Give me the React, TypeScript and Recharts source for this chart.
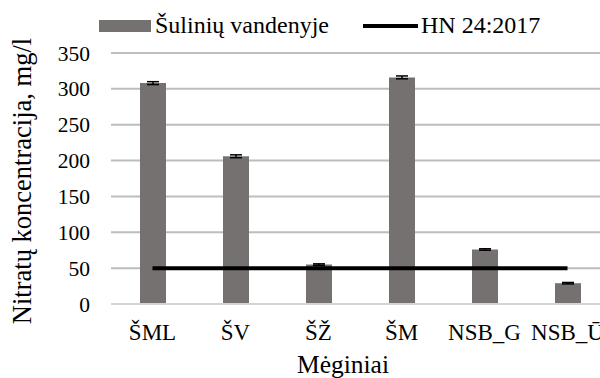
import React from "react";
import { ComposedChart, Bar, Line, XAxis, YAxis, CartesianGrid, ErrorBar, Legend, Label } from "recharts";

const samples = ["ŠML", "ŠV", "ŠŽ", "ŠM", "NSB_G", "NSB_Ū"];
const wellValues = [308, 206, 55, 316, 76, 29];
const wellErrors = [2, 2, 1, 2, 1, 1];
const limitValues = [50, 50, 50, 50, 50, 50];
const yTicks = [0, 50, 100, 150, 200, 250, 300, 350];

const data = samples.map((name, i) => ({
    name,
    well: wellValues[i],
    err: wellErrors[i],
    limit: limitValues[i],
}));

const FONT = "'Liberation Serif', 'DejaVu Serif', serif";

// legend drawn from the payload, placed like the Excel one
const renderLegend = (props: any) => {
    const payload = props.payload || [];
    const barItem = payload.find((p: any) => p.type !== "line");
    const lineItem = payload.find((p: any) => p.type === "line");
    return (
        <svg width={600} height={40} style={{ display: "block", fontFamily: FONT }}>
            {barItem && (
                <g>
                    <rect x={99} y={20} width={52} height={12} fill={barItem.color} />
                    <text x={155} y={33} style={{ fontFamily: FONT }} fontSize={24} fill="#000">
                        {barItem.value}
                    </text>
                </g>
            )}
            {lineItem && (
                <g>
                    <line x1={363} x2={418} y1={26} y2={26} stroke={lineItem.color} strokeWidth={4} />
                    <text x={421} y={33} style={{ fontFamily: FONT }} fontSize={24} fill="#000">
                        {lineItem.value}
                    </text>
                </g>
            )}
        </svg>
    );
};

export default function App() {
    return (
        <div
            style={{
                position: "absolute",
                left: 0,
                top: 0,
                width: 600,
                height: 378,
                overflow: "hidden",
                background: "#fff",
                fontFamily: FONT,
            }}
        >
            <ComposedChart
                width={620}
                height={378}
                data={data}
                margin={{ top: 53, right: 11, bottom: 0, left: 0 }}
                style={{ fontFamily: FONT }}
            >
                <CartesianGrid vertical={false} stroke="#bdbdbd" strokeWidth={2} />
                <XAxis
                    dataKey="name"
                    height={74}
                    axisLine={{ stroke: "#d4d4d4", strokeWidth: 2 }}
                    tickLine={false}
                    tickSize={0}
                    tickMargin={20}
                    interval={0}
                    tick={{ fill: "#000", fontSize: 23, style: { fontFamily: FONT } }}
                >
                    <Label
                        content={() => (
                            <text x={343} y={373} textAnchor="middle" style={{ fontFamily: FONT }} fontSize={25.5} fill="#000">
                                Mėginiai
                            </text>
                        )}
                    />
                </XAxis>
                <YAxis
                    width={111}
                    domain={[0, 350]}
                    ticks={yTicks}
                    axisLine={false}
                    tickLine={false}
                    tickSize={0}
                    tickMargin={21}
                    tick={{ fill: "#000", fontSize: 21.5, style: { fontFamily: FONT } }}
                >
                    <Label
                        content={() => (
                            <text
                                transform="rotate(-90)"
                                x={-181}
                                y={31}
                                textAnchor="middle"
                                style={{ fontFamily: FONT }}
                                fontSize={26.5}
                                fill="#000"
                            >
                                Nitratų koncentracija, mg/l
                            </text>
                        )}
                    />
                </YAxis>
                <Legend
                    verticalAlign="middle"
                    content={renderLegend}
                    wrapperStyle={{ position: "absolute", top: 0, left: 0, width: 600, height: 40 }}
                />
                <Bar dataKey="well" name="Šulinių vandenyje" fill="#767171" barSize={26} isAnimationActive={false}>
                    <ErrorBar dataKey="err" width={6} stroke="#000" strokeWidth={1.5} />
                </Bar>
                <Line
                    dataKey="limit"
                    name="HN 24:2017"
                    stroke="#000"
                    strokeWidth={4}
                    dot={false}
                    activeDot={false}
                    isAnimationActive={false}
                />
            </ComposedChart>
        </div>
    );
}
